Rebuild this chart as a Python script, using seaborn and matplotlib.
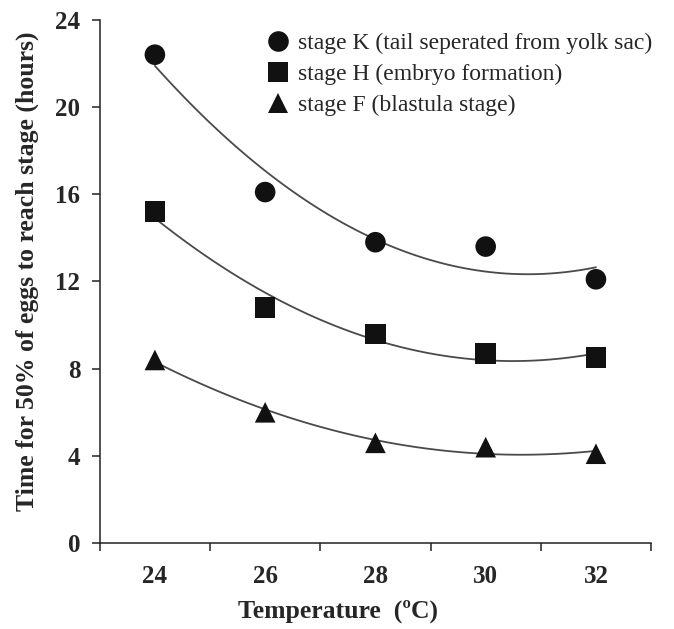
import matplotlib
matplotlib.use("Agg")
import matplotlib.pyplot as plt
import seaborn as sns
import pandas as pd
from matplotlib.ticker import FixedLocator, NullFormatter, FixedFormatter

temperature = [24, 26, 28, 30, 32]
stage_k = [22.4, 16.1, 13.8, 13.6, 12.1]
stage_h = [15.2, 10.8, 9.6, 8.7, 8.5]
stage_f = [8.4, 6.0, 4.6, 4.4, 4.1]
labels = ["stage K (tail seperated from yolk sac)",
          "stage H (embryo formation)",
          "stage F (blastula stage)"]
y_ticks = [0, 4, 8, 12, 16, 20, 24]

df = pd.DataFrame({
    "Temperature": temperature * 3,
    "Time": stage_k + stage_h + stage_f,
    "Stage": [labels[0]] * 5 + [labels[1]] * 5 + [labels[2]] * 5,
})

sns.set_theme(style="ticks")
plt.rcParams["font.family"] = ["Liberation Serif", "DejaVu Serif"]

fig = plt.figure(figsize=(6.74, 6.29), dpi=100)
ax = fig.add_axes([0.148, 0.1365, 0.818, 0.832])

for lab in labels:
    sub = df[df["Stage"] == lab]
    sns.regplot(data=sub, x="Temperature", y="Time", order=2, ci=None,
                scatter=False, truncate=True, ax=ax,
                line_kws=dict(color="#4a4a4a", lw=1.3))

markers = {labels[0]: "o", labels[1]: "s", labels[2]: "^"}
sns.scatterplot(data=df, x="Temperature", y="Time", style="Stage",
                markers=markers, color="#111111", s=220, edgecolor="none",
                ax=ax, zorder=5)

ax.set_xlim(23, 33)
ax.set_ylim(0, 24)
ax.set_yticks(y_ticks)
ax.set_yticklabels([str(v) for v in y_ticks], fontweight="bold", fontsize=18)
ax.xaxis.set_major_locator(FixedLocator([23, 25, 27, 29, 31, 33]))
ax.xaxis.set_major_formatter(NullFormatter())
ax.xaxis.set_minor_locator(FixedLocator(temperature))
ax.xaxis.set_minor_formatter(FixedFormatter([str(t) for t in temperature]))
ax.tick_params(axis="x", which="minor", length=0, pad=16, labelsize=18)
for t in ax.xaxis.get_minorticklabels():
    t.set_fontweight("bold")
ax.tick_params(axis="both", which="major", length=6, width=1.1, color="#222222")
ax.tick_params(axis="y", pad=8)

for s in ["top", "right"]:
    ax.spines[s].set_visible(False)
for s in ["left", "bottom"]:
    ax.spines[s].set_linewidth(1.1)
    ax.spines[s].set_color("#222222")

ax.set_xlabel("Temperature  (ºC)", fontweight="bold", fontsize=18.5)
ax.set_ylabel("Time for 50% of eggs to reach stage (hours)", fontweight="bold", fontsize=18.5)
ax.xaxis.set_label_coords(0.433, -0.108)
ax.yaxis.set_label_coords(-0.11, 0.52)

leg = ax.legend(loc="upper left", bbox_to_anchor=(0.285, 0.993), frameon=False,
                fontsize=17, handlelength=1.0, handletextpad=0.35,
                labelspacing=0.4, markerscale=1.0, borderaxespad=0)
for h in leg.legend_handles:
    h.set_color("#111111")

fig.savefig("out.png", dpi=100)
